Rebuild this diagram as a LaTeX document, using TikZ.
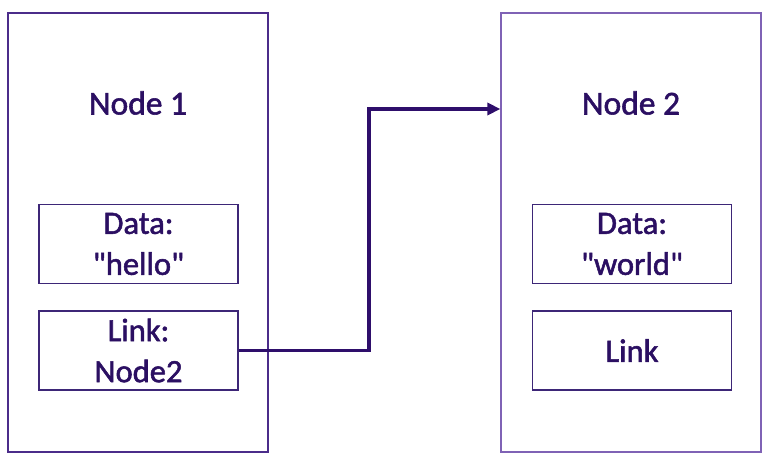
\documentclass[tikz,border=0pt]{standalone}
\usepackage{fontspec}
\newfontfamily\calfont{Carlito}[FakeBold=1.6]
\usetikzlibrary{arrows.meta}
\definecolor{txt}{HTML}{2B0F62}
\definecolor{outerA}{HTML}{4B2C8A}
\definecolor{outerB}{HTML}{7F62B5}
\definecolor{innerc}{HTML}{3D2677}
\definecolor{arrowc}{HTML}{2E0E6B}
\tikzset{
  outerbox/.style={draw, line width=1.2pt, minimum width=260pt, minimum height=439pt, inner sep=0pt},
  innerbox/.style={draw=innerc, line width=1.1pt, minimum width=199pt, minimum height=79pt, inner sep=0pt, align=center, font=\calfont\fontsize{32.5}{41}\selectfont, text=txt},
  title/.style={font=\calfont\fontsize{33.5}{38}\selectfont, text=txt, inner sep=0pt},
  linkarrow/.style={draw=arrowc, line width=3.8pt, -{Triangle[length=13pt,width=12pt]}}
}
\begin{document}
\begin{tikzpicture}[x=1pt,y=-1pt]
\useasboundingbox (0,0) rectangle (774,462);
\node[outerbox, draw=outerA] (n1) at (138,232.5) {};
\node[outerbox, draw=outerB] (n2) at (631,232.5) {};
\node[title] (t1) at (138,103) {Node 1};
\node[title] (t2) at (631,103) {Node 2};
\node[innerbox] (d1) at (138.5,244) {Data:\\"hello"};
\node[innerbox] (l1) at (138.5,350.5) {Link:\\Node2};
\node[innerbox] (d2) at (632,244) {Data:\\"world"};
\node[innerbox] (l2) at (632,350.5) {Link};
\coordinate (bend) at (369,109);
\draw[linkarrow] (l1.east) -| (bend) -- (n2.west |- bend);
\end{tikzpicture}
\end{document}
